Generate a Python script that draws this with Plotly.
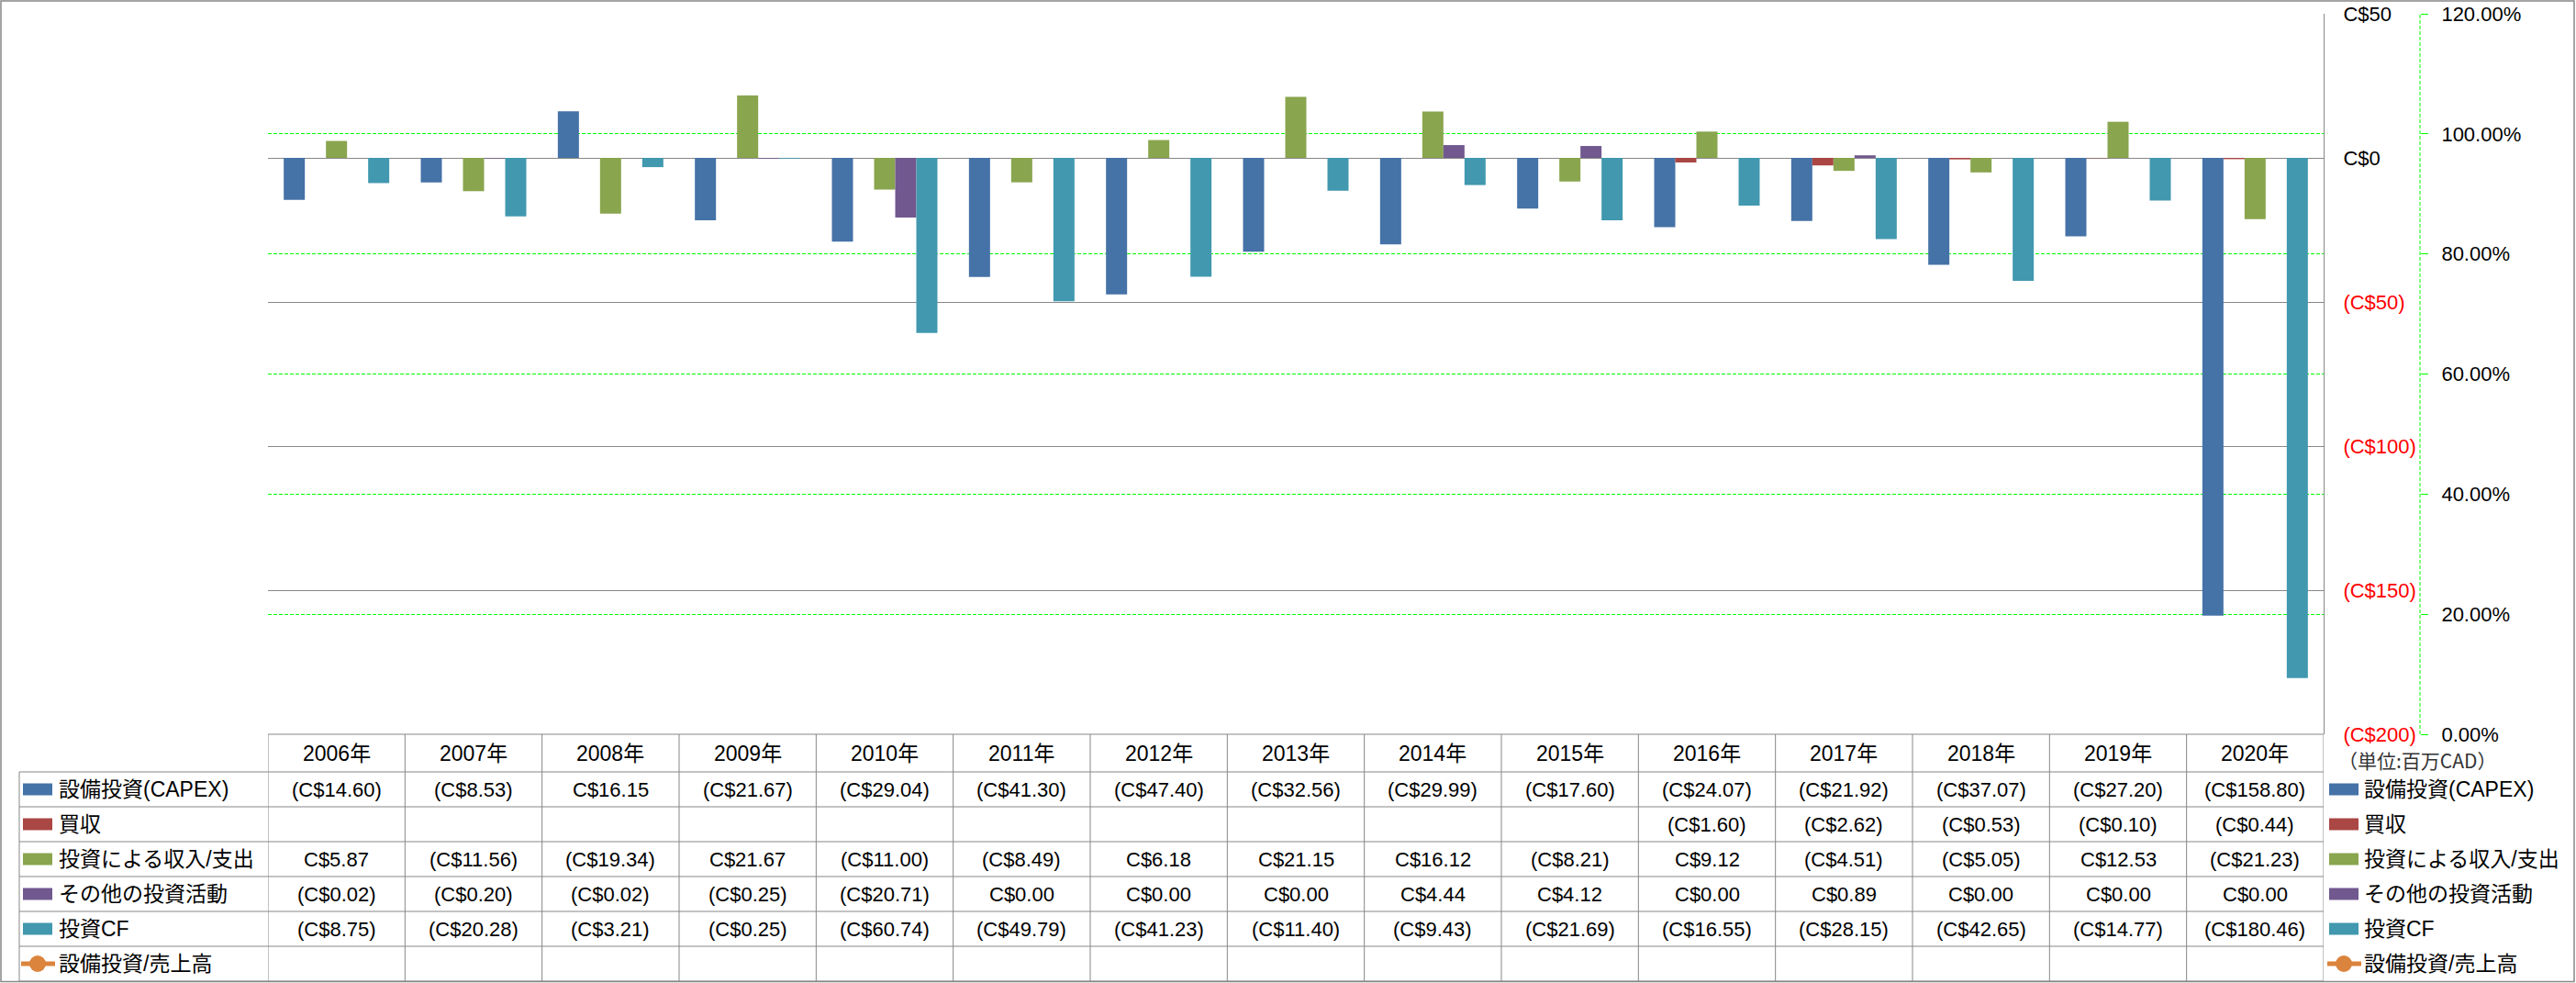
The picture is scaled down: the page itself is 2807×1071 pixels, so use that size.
import plotly.graph_objects as go

# ---------------- data ----------------
years = ["2006年", "2007年", "2008年", "2009年", "2010年", "2011年", "2012年", "2013年",
         "2014年", "2015年", "2016年", "2017年", "2018年", "2019年", "2020年"]
capex = [-14.60, -8.53, 16.15, -21.67, -29.04, -41.30, -47.40, -32.56, -29.99, -17.60,
         -24.07, -21.92, -37.07, -27.20, -158.80]
acquisition = [None, None, None, None, None, None, None, None, None, None,
               -1.60, -2.62, -0.53, -0.10, -0.44]
inv_income = [5.87, -11.56, -19.34, 21.67, -11.00, -8.49, 6.18, 21.15, 16.12, -8.21,
              9.12, -4.51, -5.05, 12.53, -21.23]
other_inv = [-0.02, -0.20, -0.02, -0.25, -20.71, 0.00, 0.00, 0.00, 4.44, 4.12,
             0.00, 0.89, 0.00, 0.00, 0.00]
inv_cf = [-8.75, -20.28, -3.21, -0.25, -60.74, -49.79, -41.23, -11.40, -9.43, -21.69,
          -16.55, -28.15, -42.65, -14.77, -180.46]
capex_ratio = [None] * 15

series_names = ["設備投資(CAPEX)", "買収", "投資による収入/支出", "その他の投資活動", "投資CF", "設備投資/売上高"]
series_colors = ["#4572A7", "#AA4643", "#89A54E", "#71588F", "#4198AF", "#DB843D"]
series_values = [capex, acquisition, inv_income, other_inv, inv_cf, capex_ratio]

left_ticks = [50, 0, -50, -100, -150, -200]
right_ticks = [0, 0.2, 0.4, 0.6, 0.8, 1.0, 1.2]
unit_label = "（単位:百万CAD）"

# ---------------- layout geometry (reference pixels) ----------------
W, H = 2807, 1071
PL, PR = 292, 2700          # paper area left/right
PT, PB = 15, 800            # plot top/bottom
AX_RIGHT = 2532             # x axis domain end
Y2_POS = 2637
GRAY = "#878787"
FONT = "Liberation Sans, Arial, Noto Sans CJK JP, sans-serif"


def px(x):
    return (x - PL) / (PR - PL)


def py(y):
    return (PB - y) / (PB - PT)


def fmt(v):
    if v is None:
        return ""
    if v < 0:
        return "(C${:.2f})".format(-v)
    return "C${:.2f}".format(v)


def tick_text(v):
    if v < 0:
        return "<span style='color:#FF0000'>(C${:d})</span>".format(int(-v))
    return "C${:d}".format(int(v))


fig = go.Figure()
for name, color, vals in zip(series_names[:5], series_colors[:5], series_values[:5]):
    fig.add_trace(go.Bar(x=years, y=vals, name=name, marker_color=color,
                         marker_line_width=0, showlegend=False, hoverinfo="skip"))
fig.add_trace(go.Scatter(x=years, y=capex_ratio, name=series_names[5], yaxis="y2",
                         mode="lines+markers", line=dict(color=series_colors[5], width=4),
                         showlegend=False, hoverinfo="skip"))

shapes = []
annotations = []

# secondary axis dashed line
shapes.append(dict(type="line", xref="paper", yref="paper", x0=px(Y2_POS), x1=px(Y2_POS),
                   y0=0, y1=1, line=dict(color="#00FF00", width=1, dash="4px,2px")))

# table rows
row_lines = [841, 879, 917, 955, 993, 1031, 1069]
shapes.append(dict(type="line", xref="paper", yref="paper", x0=px(PL), x1=px(AX_RIGHT),
                   y0=py(800), y1=py(800), line=dict(color=GRAY, width=1)))
for yl in row_lines:
    shapes.append(dict(type="line", xref="paper", yref="paper", x0=px(21), x1=px(AX_RIGHT),
                       y0=py(yl), y1=py(yl), line=dict(color=GRAY, width=1)))
shapes.append(dict(type="line", xref="paper", yref="paper", x0=px(21), x1=px(21),
                   y0=py(841), y1=py(1069), line=dict(color=GRAY, width=1)))
for i in range(len(years) + 1):
    shapes.append(dict(type="line", xref="x", yref="paper", x0=i - 0.5, x1=i - 0.5,
                       y0=py(800), y1=py(1069), line=dict(color=GRAY, width=1)))

# outer border
shapes.append(dict(type="rect", xref="paper", yref="paper", x0=px(1), x1=px(2805),
                   y0=py(1), y1=py(1069.5), line=dict(color=GRAY, width=1.5)))

# header
for i, yr in enumerate(years):
    annotations.append(dict(x=i, y=py(820.5), xref="x", yref="paper", text=yr,
                            xanchor="center", yanchor="middle", showarrow=False,
                            font=dict(size=23, color="black", family=FONT)))

row_centers = [860, 898, 936, 974, 1012, 1050]
for r, (name, color, vals) in enumerate(zip(series_names, series_colors, series_values)):
    yc = row_centers[r]
    for i, v in enumerate(vals):
        t = fmt(v)
        if t:
            annotations.append(dict(x=i, y=py(yc), xref="x", yref="paper", text=t,
                                    xanchor="center", yanchor="middle", showarrow=False,
                                    font=dict(size=22, color="black", family=FONT)))
    for (sx0, tx) in [(25, 62), (2538, 2574)]:
        if r < 5:
            shapes.append(dict(type="rect", xref="paper", yref="paper", x0=px(sx0),
                               x1=px(sx0 + 32), y0=py(yc - 6.5), y1=py(yc + 6.5),
                               fillcolor=color, line=dict(width=0)))
        else:
            shapes.append(dict(type="line", xref="paper", yref="paper", x0=px(sx0 - 2),
                               x1=px(sx0 + 35), y0=py(yc), y1=py(yc),
                               line=dict(color=color, width=5)))
            shapes.append(dict(type="circle", xref="paper", yref="paper", x0=px(sx0 + 7),
                               x1=px(sx0 + 25), y0=py(yc - 9), y1=py(yc + 9),
                               fillcolor=color, line=dict(width=0)))
        annotations.append(dict(x=px(tx), y=py(yc), xref="paper", yref="paper", text=name,
                                xanchor="left", yanchor="middle", showarrow=False,
                                font=dict(size=23, color="black", family=FONT)))

annotations.append(dict(x=px(2546), y=py(828), xref="paper", yref="paper", text=unit_label,
                        xanchor="left", yanchor="middle", showarrow=False,
                        font=dict(size=21, color="#333333", family="Noto Sans CJK JP")))

fig.update_layout(
    width=W, height=H, autosize=False,
    margin=dict(l=PL, r=W - PR, t=PT, b=H - PB, pad=0, autoexpand=False),
    plot_bgcolor="white", paper_bgcolor="white",
    barmode="group", bargap=0.23, bargroupgap=0,
    showlegend=False, hovermode=False,
    font=dict(family=FONT, size=21, color="black"),
    xaxis=dict(domain=[0, px(AX_RIGHT)], range=[-0.5, 14.5], type="category",
               showticklabels=False, showgrid=False, zeroline=False, showline=False,
               ticks="", automargin=False),
    yaxis=dict(range=[-200, 50], side="right", tickmode="array", tickvals=left_ticks,
               ticktext=[tick_text(v) for v in left_ticks], showgrid=True,
               gridcolor=GRAY, gridwidth=1, zeroline=True, zerolinecolor=GRAY,
               zerolinewidth=1, showline=True, linecolor=GRAY, linewidth=1,
               ticks="", ticklabelstandoff=16, automargin=False,
               tickfont=dict(size=22, color="black", family=FONT)),
    yaxis2=dict(range=[0, 1.2], overlaying="y", side="right", anchor="free",
                position=px(Y2_POS), tickmode="array", tickvals=right_ticks,
                tickformat=".2%", showgrid=True, gridcolor="#00FF00", gridwidth=1,
                griddash="4px,2px", zeroline=False, showline=False, ticks="outside",
                ticklen=8, tickcolor="#00FF00", tickwidth=1, ticklabelstandoff=10,
                automargin=False,
                tickfont=dict(size=22, color="black", family=FONT)),
    shapes=shapes,
    annotations=annotations,
)

fig.write_html("out.html", config={"displayModeBar": False, "staticPlot": True},
               post_script="document.body.style.margin='0';document.body.style.overflow='hidden';")
